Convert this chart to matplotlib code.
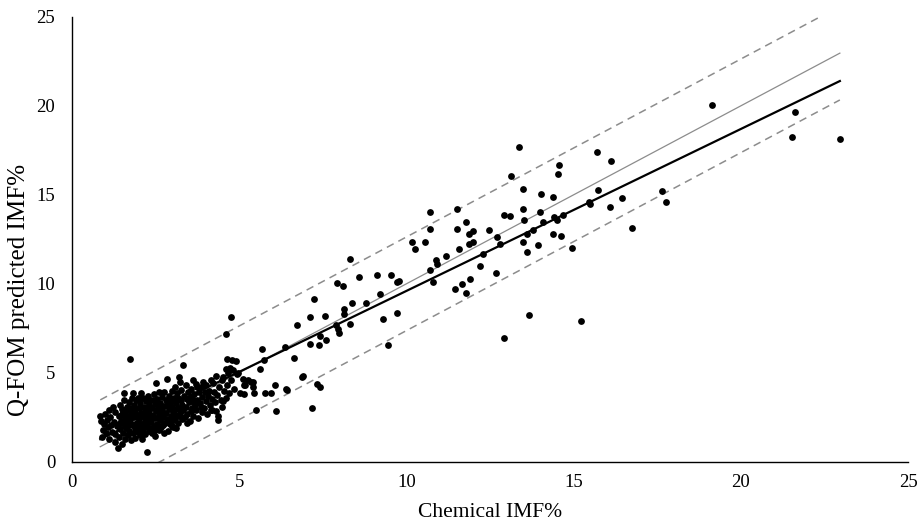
import matplotlib
matplotlib.use("Agg")
import matplotlib.pyplot as plt
import numpy as np

# ---- data ----
chem_imf = [
    # dense cluster 0.8-1.35
    0.85, 0.88, 0.92, 0.90, 0.95, 1.00, 1.02, 1.05, 1.08, 1.10, 1.12, 1.15, 1.18, 1.20, 1.22, 1.25, 1.28, 1.30, 1.30, 1.35,
    # 1.35-1.8
    1.38, 1.40, 1.42, 1.45, 1.45, 1.48, 1.50, 1.50, 1.52, 1.55, 1.55, 1.58, 1.60, 1.60, 1.62, 1.65, 1.65, 1.68, 1.70, 1.70,
    1.72, 1.75, 1.75, 1.78, 1.78, 1.80, 1.80, 1.56, 1.83, 1.73, 1.60, 1.66, 1.74, 1.50, 1.42,
    # 1.8-2.3
    1.82, 1.85, 1.85, 1.88, 1.90, 1.90, 1.92, 1.95, 1.95, 1.98, 2.00, 2.00, 2.02, 2.05, 2.05, 2.08, 2.08, 2.10, 2.12, 2.12,
    2.15, 2.15, 2.18, 2.20, 2.20, 2.22, 2.24, 2.25, 2.25, 2.28, 2.30, 2.30, 2.30, 1.87, 1.97, 2.03, 2.17, 2.27, 2.10, 2.22,
    # 2.3-2.8
    2.32, 2.35, 2.35, 2.38, 2.40, 2.40, 2.42, 2.45, 2.45, 2.48, 2.50, 2.50, 2.51, 2.52, 2.55, 2.55, 2.58, 2.60, 2.60, 2.62,
    2.65, 2.65, 2.68, 2.70, 2.70, 2.72, 2.75, 2.75, 2.78, 2.80, 2.80, 2.42, 2.57, 2.67, 2.77, 2.37, 2.47, 2.63, 2.73, 2.53,
    # 2.8-3.3
    2.83, 2.85, 2.85, 2.88, 2.90, 2.90, 2.92, 2.95, 2.95, 2.98, 3.00, 3.00, 3.02, 3.05, 3.05, 3.08, 3.10, 3.10, 3.12, 3.15,
    3.15, 3.18, 3.20, 3.21, 3.23, 3.22, 3.25, 3.25, 3.28, 3.30, 3.31, 2.87, 2.97, 3.07, 3.17, 3.03, 3.43, 3.23, 3.08,
    # 3.3-3.9
    3.32, 3.35, 3.38, 3.40, 3.42, 3.45, 3.48, 3.50, 3.52, 3.55, 3.58, 3.60, 3.63, 3.62, 3.65, 3.68, 3.70, 3.73, 3.72, 3.75,
    3.78, 3.80, 3.82, 3.85, 3.88, 3.90, 3.45, 3.55, 3.65, 3.87,
    # 3.9-5
    3.92, 3.95, 3.98, 4.00, 4.02, 4.05, 4.08, 4.10, 4.12, 4.15, 4.18, 4.22, 4.20, 4.25, 4.28, 4.30, 4.35, 4.38, 4.40, 4.45,
    4.48, 4.52, 4.50, 4.55, 4.60, 4.62, 4.67, 4.65, 4.77, 4.60, 4.70, 4.75, 4.79, 4.82, 4.64, 4.90, 4.85, 4.72, 4.95, 4.98,
    4.37, 4.17, 4.32, 4.52,
    # 5-7.5
    5.11, 5.26, 5.42, 5.43, 5.15, 5.02, 5.16, 5.44, 5.76, 5.95, 5.51, 6.10, 7.18, 5.68, 6.37, 6.65, 5.73, 5.62, 6.90, 6.06,
    6.39, 7.32, 7.41, 7.43, 7.60, 7.12, 7.39, 6.73, 7.89, 7.95, 7.98, 8.33, 5.37, 5.17, 6.42, 6.87,
    # 7-10
    8.32, 9.13, 9.53, 8.59, 7.92, 8.10, 9.22, 7.23, 8.37, 8.80, 8.15, 8.13, 7.12, 7.58, 9.30, 9.44,
    # 9.5-14.5
    13.49, 14.02, 10.72, 11.50, 13.49, 14.00, 12.92, 13.11, 11.78, 13.53, 14.09, 10.70, 11.50, 12.46, 11.87, 11.98, 13.80,
    13.60, 12.71, 10.17, 10.55, 11.87, 12.00, 13.50, 12.81, 10.25, 11.57, 13.94, 13.62, 11.18, 12.29, 10.89, 10.92, 10.72,
    12.19, 12.67, 9.78, 9.71, 10.79, 11.46, 11.67, 11.91, 11.78, 9.71, 13.68, 12.93, 13.36, 13.12,
    # 14-23
    15.69, 16.12, 14.57, 14.52, 14.37, 15.74, 15.47, 15.49, 16.45, 16.09, 17.65, 17.77, 16.76, 14.41, 14.49, 14.67, 14.37,
    14.63, 14.95, 15.22, 19.13, 21.63, 21.52, 22.96,
]
qfom_pred = [
    2.55, 2.30, 1.80, 1.42, 2.10, 2.70, 1.60, 2.35, 1.95, 2.90, 1.30, 2.50, 2.05, 1.70, 3.10, 2.25, 1.55, 2.80, 1.10, 2.00,
    0.77, 1.40, 2.60, 3.20, 1.85, 2.30, 1.00, 2.95, 1.60, 2.10, 3.50, 2.45, 1.30, 2.80, 1.90, 3.10, 2.20, 1.50, 2.60, 3.35,
    1.75, 2.35, 3.00, 1.25, 2.75, 2.05, 3.60, 3.89, 3.89, 5.75, 2.50, 1.95, 2.90, 2.70, 2.15,
    1.60, 2.50, 3.20, 1.90, 2.80, 1.35, 3.45, 2.20, 2.65, 1.70, 3.00, 2.40, 1.95, 3.30, 1.50, 3.89, 2.75, 2.10, 3.60, 1.80,
    2.55, 3.10, 2.30, 1.55, 2.90, 3.40, 0.58, 2.00, 2.70, 3.70, 1.75, 2.45, 3.20, 2.95, 3.60, 2.60, 1.95, 2.90, 1.30, 2.20,
    2.75, 1.90, 3.50, 2.25, 3.00, 1.60, 2.60, 3.80, 2.00, 3.25, 2.45, 1.45, 4.42, 2.85, 3.55, 2.15, 3.05, 1.80, 2.65, 3.90,
    2.35, 3.30, 1.95, 2.90, 3.65, 2.50, 1.60, 3.15, 2.20, 3.50, 2.75, 3.45, 2.00, 2.70, 3.90, 2.50, 1.75, 3.15, 2.05, 3.30,
    4.65, 2.40, 3.20, 1.75, 2.95, 3.70, 2.15, 3.40, 2.60, 4.00, 2.00, 3.10, 2.80, 3.60, 2.35, 4.20, 2.95, 1.90, 3.30, 2.55,
    3.85, 2.20, 3.05, 4.76, 4.51, 2.75, 3.50, 4.05, 2.40, 3.20, 5.43, 3.45, 2.30, 2.65, 3.60, 1.98, 2.17, 2.55, 2.45,
    2.90, 3.70, 2.50, 4.30, 3.10, 2.70, 3.90, 3.35, 2.30, 4.10, 3.00, 3.60, 4.61, 2.60, 3.80, 3.20, 4.40, 4.23, 2.90, 3.50,
    2.45, 3.95, 3.30, 4.20, 2.80, 3.65, 3.55, 2.85, 3.35, 3.10,
    4.50, 3.00, 3.90, 3.40, 4.30, 2.70, 3.70, 4.00, 3.20, 4.60, 3.55, 4.42, 2.90, 3.90, 3.35, 4.80, 3.75, 2.55, 4.20, 3.50,
    4.60, 4.76, 3.10, 4.00, 3.60, 5.20, 4.98, 4.30, 8.11, 7.19, 3.85, 4.60, 5.73, 5.17, 5.77, 5.64, 4.10, 5.26, 4.94, 5.00,
    2.36, 2.92, 2.83, 3.39,
    4.66, 4.61, 4.46, 4.23, 4.33, 3.86, 3.82, 3.89, 3.86, 3.86, 2.90, 2.85, 3.02, 6.35, 6.46, 5.84, 5.73, 5.24, 4.83, 4.29,
    4.10, 4.38, 4.23, 7.08, 6.85, 6.61, 6.55, 7.68, 7.70, 7.47, 7.25, 7.73, 4.51, 4.33, 4.04, 4.79,
    11.39, 10.51, 10.52, 10.39, 10.06, 9.85, 9.42, 9.12, 8.93, 8.93, 8.61, 8.30, 8.11, 8.20, 8.00, 6.55,
    15.32, 15.02, 14.06, 14.21, 14.20, 14.03, 13.86, 13.82, 13.47, 13.60, 13.45, 13.09, 13.09, 13.02, 12.81, 12.94, 13.05,
    12.79, 12.62, 12.34, 12.34, 12.23, 12.36, 12.34, 12.25, 11.97, 11.93, 12.17, 11.78, 11.57, 11.70, 11.35, 11.11, 10.75,
    11.01, 10.62, 10.17, 10.13, 10.13, 9.72, 9.98, 10.28, 9.46, 8.35, 8.24, 6.95, 17.70, 16.07,
    17.43, 16.91, 16.70, 16.16, 14.87, 15.26, 14.61, 14.46, 14.81, 14.31, 15.19, 14.61, 13.13, 13.73, 13.60, 13.84, 12.79,
    12.70, 12.02, 7.90, 20.06, 19.63, 18.24, 18.15,
]
reg_slope = 0.91
reg_intercept = 0.50
pred_band = 2.63
x_ticks = [0, 5, 10, 15, 20, 25]
y_ticks = [0, 5, 10, 15, 20, 25]
x_label = "Chemical IMF%"
y_label = "Q-FOM predicted IMF%"

plt.rcParams['font.family'] = ['Liberation Serif', 'DejaVu Serif']

fig = plt.figure(figsize=(9.21, 5.26), dpi=100)
ax = fig.add_axes([0.078, 0.122, 0.908, 0.846])

x = np.array(chem_imf)
y = np.array(qfom_pred)
ax.scatter(x, y, s=24, color='black', linewidths=0, zorder=3)

xl = np.array([x.min(), x.max()])
ax.plot(xl, xl, color='#8c8c8c', lw=0.9, zorder=2)
ax.plot(xl, reg_intercept + reg_slope * xl, color='black', lw=1.6, zorder=4)
ax.plot(xl, xl + pred_band, color='#8c8c8c', lw=1.1, ls=(0, (5, 3.5)), zorder=2)
ax.plot(xl, xl - pred_band, color='#8c8c8c', lw=1.1, ls=(0, (5, 3.5)), zorder=2)

ax.set_xlim(0, 25)
ax.set_ylim(0, 25)
ax.set_xticks(x_ticks)
ax.set_yticks(y_ticks)
ax.tick_params(length=0, labelsize=13.5)
ax.tick_params(axis='x', pad=9)
ax.tick_params(axis='y', pad=12)
for s in ['top', 'right']:
    ax.spines[s].set_visible(False)
for s in ['left', 'bottom']:
    ax.spines[s].set_linewidth(1.0)
ax.set_xlabel(x_label, fontsize=15.5)
ax.xaxis.set_label_coords(0.5, -0.093)
ax.set_ylabel(y_label, fontsize=18)
ax.yaxis.set_label_coords(-0.05, 0.387)

fig.savefig("out.png", dpi=100)
